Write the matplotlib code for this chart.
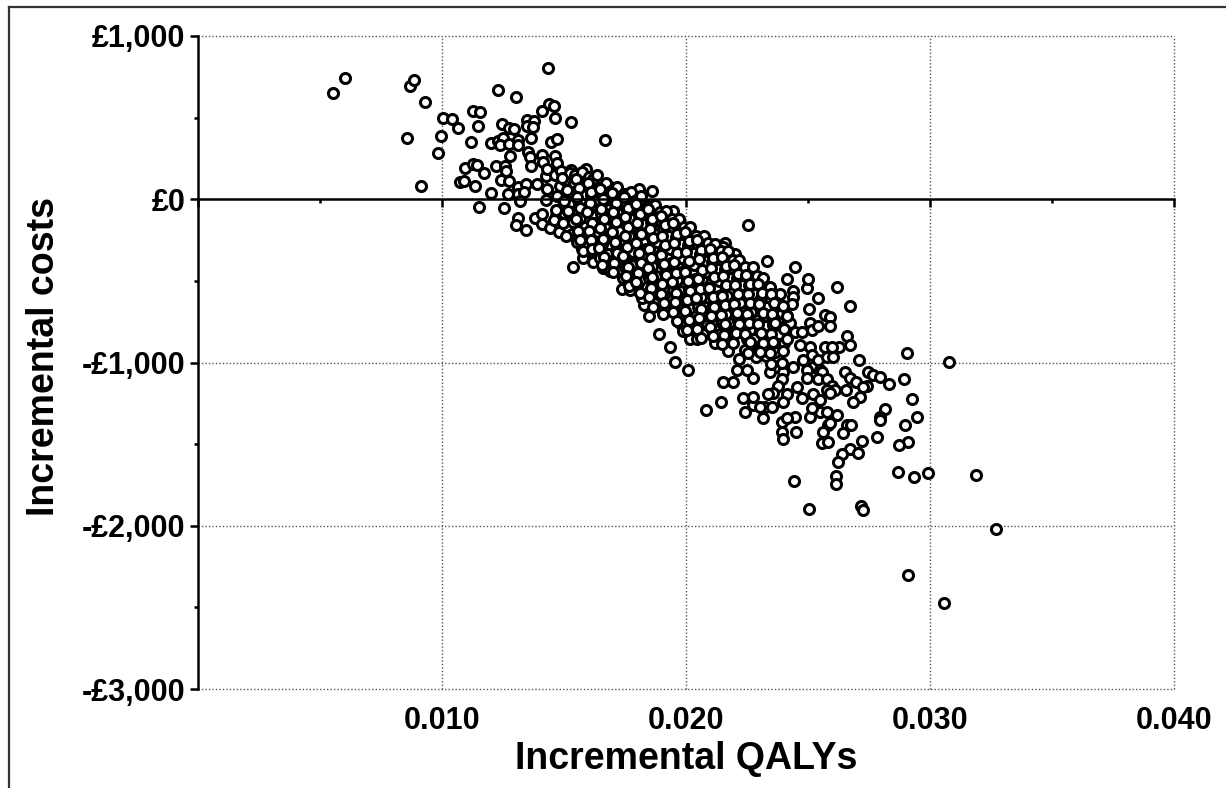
import matplotlib
matplotlib.use("Agg")
import matplotlib.pyplot as plt
from matplotlib.ticker import MultipleLocator, FixedLocator, FuncFormatter
from matplotlib.lines import Line2D
import numpy as np

plt.rcParams['font.family'] = ['Liberation Sans', 'DejaVu Sans']
plt.rcParams['font.weight'] = 'bold'

# Incremental QALYs in thousandths (mQALY), incremental costs in GBP
# sparse upper-left cloud
upper_q = [5.53, 6.02, 8.69, 8.85, 9.30, 8.57, 9.96, 9.84, 9.14, 10.04, 10.41, 10.66, 11.27, 11.56,
           11.48, 11.19, 12.30, 13.03, 14.34, 14.39, 14.59, 14.10, 14.63, 15.29, 13.48, 13.77, 13.48,
           13.73, 12.46, 12.75, 12.95, 13.65, 14.47, 14.71, 12.01, 12.30, 12.50, 12.38, 12.75, 13.11,
           13.11, 12.79, 13.52, 13.61, 14.10, 14.63, 13.65, 14.14, 14.71, 10.94, 11.27, 11.43, 11.72,
           12.21, 12.58, 12.62, 10.74, 10.90, 11.35, 12.42, 12.75, 12.01, 12.70, 13.11, 13.44, 13.89,
           14.26, 14.30, 13.11, 13.36, 13.20, 14.30, 14.26, 11.52, 12.54, 13.11, 13.03, 13.44, 13.81,
           14.10, 14.10, 14.43, 14.67, 16.68]
upper_c = [650, 742, 693, 730, 595, 374, 387, 282, 80, 497, 491, 436, 540, 534,
           448, 350, 669, 626, 804, 583, 571, 540, 497, 472, 485, 479, 448,
           442, 460, 436, 429, 374, 350, 368, 344, 356, 374, 331, 337, 362,
           331, 264, 288, 258, 270, 264, 202, 227, 221, 190, 215, 209, 160,
           202, 202, 172, 104, 110, 80, 117, 110, 37, 31, 74, 92, 92,
           141, 184, 31, 43, -12, 61, -6, -49, -55, -117, -160, -190, -117,
           -92, -153, -178, -104, 362]

# edges of the main band
edge_q = [15.37, 15.74, 15.78, 16.19, 16.60, 16.15, 17.38, 18.28, 18.48, 18.89, 19.34, 19.75, 19.88,
          20.16, 20.45, 19.55, 20.08, 20.82, 21.43, 22.42, 23.16, 23.93, 23.93, 24.51, 23.98,
          18.61, 18.07, 18.65, 19.47, 19.06, 19.67, 22.54, 21.60, 21.52, 22.01, 22.05, 23.32, 24.47,
          24.14, 24.96, 25.00, 16.90, 17.50, 15.90, 15.30]
edge_c = [-417, -307, -362, -387, -423, -325, -552, -650, -718, -828, -902, -755, -810,
          -853, -859, -994, -1049, -1288, -1245, -1301, -1337, -1362, -1423, -1423, -1466,
          49, 61, -55, -74, -123, -129, -160, -270, -294, -337, -472, -380, -417,
          -491, -546, -491, 74, 31, 185, 178]

# sparse lower-right cloud
lower_q = [26.19, 26.72, 25.41, 25.04, 25.70, 25.90, 26.60, 26.72, 26.27, 29.06, 30.78, 27.09, 26.52,
           26.72, 26.97, 27.46, 27.66, 27.95, 28.32, 28.93, 29.26, 29.47, 28.98, 29.10, 28.73, 28.16,
           27.95, 27.95, 27.42, 27.25, 27.13, 26.84, 26.56, 26.19, 25.82, 25.90, 26.60, 26.75, 26.43,
           25.61, 25.57, 25.82, 27.21, 27.83, 26.72, 27.05, 26.39, 26.23, 24.47, 24.14, 23.24, 23.52,
           22.75, 22.34, 25.08, 25.49, 25.78, 25.16, 28.69, 29.34, 29.92, 31.89, 24.43, 25.04, 26.15,
           26.15, 27.17, 27.25, 32.70, 29.10, 30.57, 21.52, 21.93, 22.75, 22.09, 22.50, 24.39, 24.80,
           25.20, 23.57, 23.85, 24.39, 24.39, 24.34, 23.65, 23.98, 23.77, 24.14, 24.26, 24.47, 24.75,
           25.08, 25.16, 25.41, 25.90, 24.67, 25.08, 25.70, 25.98, 25.16, 25.41, 25.78, 26.02, 24.96,
           25.49, 25.57, 24.96, 25.41, 25.78, 25.98, 26.11, 23.44, 23.98, 23.93, 23.77, 23.57, 23.36,
           24.14, 24.55, 24.75, 25.20, 25.49, 25.78, 25.90, 22.75, 23.03, 23.98]
lower_c = [-540, -656, -607, -675, -706, -724, -840, -890, -902, -939, -994, -982, -1061,
           -1092, -1117, -1061, -1074, -1086, -1129, -1104, -1221, -1331, -1380, -1485, -1503, -1282,
           -1331, -1350, -1147, -1153, -1209, -1245, -1166, -1319, -1380, -1368, -1380, -1385, -1429,
           -1423, -1491, -1485, -1478, -1454, -1528, -1552, -1558, -1607, -1331, -1337, -1270, -1270,
           -1258, -1215, -1331, -1301, -1301, -1276, -1669, -1699, -1675, -1687, -1724, -1896, -1693,
           -1742, -1877, -1902, -2018, -2300, -2472, -1117, -1117, -1092, -1043, -1043, -1025, -982,
           -1025, -583, -583, -564, -601, -644, -632, -675, -736, -718, -755, -816, -816,
           -755, -798, -779, -779, -890, -902, -902, -908, -951, -982, -969, -969, -1043,
           -1043, -1061, -1092, -1104, -1104, -1147, -1166, -1061, -1061, -1104, -1147, -1184, -1196,
           -1196, -1153, -1215, -1196, -1227, -1166, -1184, -1209, -1270, -1245]

# dense core of the band
core_q = [14.62, 14.83, 14.71, 14.94, 14.57, 14.78, 15.03, 14.88, 14.99, 14.66,
          15.23, 15.41, 15.28, 15.47, 15.16, 15.37, 15.31, 15.52, 15.44, 15.19,
          15.72, 15.93, 15.61, 15.84, 16.02, 15.67, 15.88, 15.58, 15.97, 15.79, 16.04, 15.86,
          16.18, 16.43, 16.09, 16.34, 16.51, 16.22, 16.38, 16.13, 16.27, 16.47, 16.36, 16.24,
          16.73, 16.91, 16.62, 16.84, 17.03, 16.68, 16.94, 16.57, 16.79, 16.98, 16.87, 17.04,
          17.17, 17.44, 17.08, 17.33, 17.52, 17.24, 17.37, 17.13, 17.28, 17.48, 17.41, 17.21, 17.54,
          17.73, 17.92, 17.58, 17.83, 18.03, 17.66, 17.94, 17.62, 17.77, 17.98, 17.87, 17.71, 18.04, 17.81,
          18.17, 18.43, 18.08, 18.32, 18.53, 18.24, 18.38, 18.12, 18.27, 18.49, 18.41, 18.19, 18.52, 18.34,
          18.72, 18.93, 18.58, 18.84, 19.03, 18.66, 18.92, 18.61, 18.78, 18.99, 18.87, 18.69, 19.04, 18.81,
          19.17, 19.43, 19.07, 19.32, 19.53, 19.23, 19.37, 19.12, 19.28, 19.48, 19.41, 19.19, 19.54, 19.34,
          19.73, 19.92, 19.58, 19.83, 20.03, 19.66, 19.94, 19.62, 19.77, 19.98, 19.87, 19.71, 20.04, 19.81,
          20.17, 20.43, 20.07, 20.32, 20.53, 20.23, 20.37, 20.12, 20.28, 20.48, 20.41, 20.19, 20.54, 20.34,
          20.73, 20.92, 20.58, 20.83, 21.03, 20.66, 20.94, 20.62, 20.77, 20.98, 20.87, 20.71, 21.04, 20.81,
          21.17, 21.43, 21.07, 21.32, 21.53, 21.23, 21.37, 21.12, 21.28, 21.48, 21.41, 21.19, 21.54, 21.34,
          21.73, 21.92, 21.58, 21.83, 22.03, 21.66, 21.94, 21.62, 21.77, 21.98, 21.87, 21.71, 22.04,
          22.17, 22.43, 22.07, 22.32, 22.53, 22.23, 22.37, 22.12, 22.28, 22.48, 22.41, 22.19,
          22.73, 22.92, 22.58, 22.83, 23.03, 22.66, 22.94, 22.62, 22.77, 22.98, 22.87,
          23.17, 23.43, 23.07, 23.32, 23.53, 23.23, 23.37, 23.12, 23.28, 23.48,
          23.73, 23.92, 23.58, 23.83, 24.03, 23.66, 23.94]
core_c = [148, 83, 17, -42, -128, -203, 118, 176, -87, -63,
          162, 97, 44, -12, -73, -138, -214, -262, 151, -28,
          168, 113, 57, 4, -58, -112, -173, -228, -284, -318, 137, 33,
          122, 68, 23, -43, -92, -147, -203, -257, -312, -358, 147, -8,
          98, 52, -13, -58, -113, -168, -223, -277, -333, -381, -437, 18,
          77, 33, -32, -88, -143, -197, -252, -308, -372, -418, -483, -127, -27,
          42, -13, -68, -122, -172, -228, -283, -337, -402, -447, -512, -558, -58, -322,
          18, -43, -98, -152, -197, -263, -307, -372, -428, -483, -537, -603, -102, -347,
          -33, -78, -142, -187, -243, -298, -353, -407, -472, -518, -583, -637, -398, -262,
          -72, -118, -183, -228, -282, -342, -388, -452, -507, -563, -618, -683, -447, -302,
          -122, -168, -233, -277, -332, -388, -443, -497, -562, -607, -672, -728, -478, -358,
          -168, -223, -278, -332, -378, -442, -487, -553, -608, -663, -717, -782, -527, -403,
          -223, -268, -333, -377, -432, -487, -543, -598, -662, -707, -773, -827, -577, -448,
          -272, -318, -383, -428, -483, -537, -592, -648, -713, -757, -823, -878, -628, -503,
          -317, -372, -428, -483, -527, -593, -637, -703, -758, -813, -867, -932, -683,
          -372, -417, -483, -528, -582, -637, -693, -748, -812, -857, -923, -977,
          -418, -472, -528, -583, -627, -692, -738, -803, -857, -912, -968,
          -483, -537, -602, -657, -722, -778, -843, -897, -963, -1008,
          -642, -697, -773, -828, -883, -938, -1003]

# second pass over the dense core (points between the first pass)
core2_q = [14.93, 15.11, 15.02, 15.17, 14.97, 15.09,
           15.48, 15.63, 15.55, 15.66, 15.51, 15.59, 15.64,
           15.98, 16.12, 16.06, 15.95, 16.14, 16.01, 16.09, 16.16,
           16.46, 16.61, 16.53, 16.64, 16.49, 16.58, 16.44, 16.62, 16.55,
           16.97, 17.12, 17.01, 17.14, 16.96, 17.09, 17.16, 17.03, 16.99,
           17.47, 17.62, 17.51, 17.64, 17.49, 17.58, 17.43, 17.61, 17.55, 17.66,
           17.96, 18.12, 18.01, 18.14, 17.97, 18.09, 18.16, 18.03, 17.94, 18.11,
           18.46, 18.61, 18.53, 18.64, 18.49, 18.58, 18.43, 18.62, 18.55, 18.47, 18.63,
           18.97, 19.12, 19.01, 19.14, 18.96, 19.09, 19.16, 19.03, 18.99, 19.11, 19.06,
           19.47, 19.62, 19.51, 19.64, 19.49, 19.58, 19.43, 19.61, 19.55, 19.46, 19.63,
           19.96, 20.12, 20.01, 20.14, 19.97, 20.09, 20.16, 20.03, 19.94, 20.11, 20.06,
           20.46, 20.61, 20.53, 20.64, 20.49, 20.58, 20.43, 20.62, 20.55, 20.47, 20.63,
           20.97, 21.12, 21.01, 21.14, 20.96, 21.09, 21.16, 21.03, 20.99, 21.11,
           21.47, 21.62, 21.51, 21.64, 21.49, 21.58, 21.43, 21.61, 21.55, 21.46,
           21.96, 22.12, 22.01, 22.14, 21.97, 22.09, 22.16, 22.03, 21.94,
           22.46, 22.61, 22.53, 22.64, 22.49, 22.58, 22.43, 22.62, 22.55,
           22.97, 23.12, 23.01, 23.14, 22.96, 23.09, 23.16, 23.03,
           23.47, 23.62, 23.51, 23.64, 23.49, 23.58, 23.43,
           23.97, 24.12, 24.01, 24.14, 23.96]
core2_c = [131, 58, -11, -72, -148, -223,
           122, 68, 12, -53, -118, -192, -247,
           98, 43, -22, -78, -143, -197, -252, -302,
           63, 2, -58, -123, -177, -243, -298, -352, -403,
           38, -23, -77, -142, -198, -262, -328, -392, -447,
           12, -52, -108, -173, -227, -292, -348, -413, -468, -532,
           -28, -92, -148, -213, -267, -332, -388, -453, -507, -572,
           -62, -118, -183, -237, -302, -357, -423, -478, -543, -597, -662,
           -102, -157, -223, -278, -343, -397, -462, -517, -583, -637, -702,
           -148, -213, -267, -332, -387, -453, -508, -572, -627, -693, -748,
           -203, -257, -322, -377, -443, -498, -562, -617, -683, -738, -803,
           -248, -313, -367, -433, -488, -552, -607, -673, -728, -793, -848,
           -302, -357, -423, -477, -543, -598, -662, -717, -783, -837,
           -352, -407, -473, -527, -593, -648, -712, -767, -833, -887,
           -403, -457, -523, -578, -642, -697, -763, -818, -882,
           -462, -517, -583, -637, -702, -757, -823, -877, -943,
           -522, -577, -643, -698, -762, -817, -883, -937,
           -582, -637, -703, -758, -823, -877, -942,
           -652, -718, -792, -857, -932]

q_all = np.array(upper_q + edge_q + lower_q + core_q + core2_q) / 1000.0
c_all = np.array(upper_c + edge_c + lower_c + core_c + core2_c, dtype=float)

fig = plt.figure(figsize=(12.26, 7.88), dpi=100)
ax = fig.add_axes([198/1226, 1-689/788, (1174-198)/1226, (689-36)/788])

ax.set_xlim(0, 0.040)
ax.set_ylim(-3000, 1000)

# grid
for xv in [0.010, 0.020, 0.030, 0.040]:
    ax.axvline(xv, color='#555555', lw=1.0, ls=(0, (1, 1.5)), zorder=1, clip_on=False)
for yv in [1000, -1000, -2000, -3000]:
    ax.axhline(yv, color='#555555', lw=1.0, ls=(0, (1, 1.5)), zorder=1, clip_on=False)

ax.scatter(q_all, c_all, s=52, facecolors='white', edgecolors='black', linewidths=2.2, zorder=3)

# spines
ax.spines['top'].set_visible(False)
ax.spines['right'].set_visible(False)
ax.spines['left'].set_linewidth(1.8)
ax.spines['bottom'].set_position(('data', 0))
ax.spines['bottom'].set_linewidth(1.8)
ax.spines['bottom'].set_zorder(4)

ax.xaxis.set_major_locator(MultipleLocator(0.010))
ax.xaxis.set_minor_locator(MultipleLocator(0.005))
ax.tick_params(axis='x', which='major', direction='out', length=6, width=1.8, labelbottom=False)
ax.tick_params(axis='x', which='minor', direction='out', length=3, width=1.8)

ax.yaxis.set_major_locator(MultipleLocator(1000))
ax.yaxis.set_minor_locator(MultipleLocator(500))
ax.tick_params(axis='y', which='major', direction='out', length=6, width=1.8, labelsize=22, pad=3)
ax.tick_params(axis='y', which='minor', direction='out', length=3, width=1.8)

def gbp(v, pos):
    v = int(round(v))
    if v < 0:
        return "-£{:,}".format(-v)
    return "£{:,}".format(v)
ax.yaxis.set_major_formatter(FuncFormatter(gbp))
for t in ax.get_yticklabels():
    t.set_fontweight('bold')

# x tick labels at the bottom
sec = ax.secondary_xaxis('bottom')
sec.xaxis.set_major_locator(FixedLocator([0.010, 0.020, 0.030, 0.040]))
sec.xaxis.set_major_formatter(FuncFormatter(lambda v, p: "{:.3f}".format(v)))
sec.tick_params(axis='x', length=0, labelsize=22, pad=12)
sec.spines['bottom'].set_visible(False)
for t in sec.get_xticklabels():
    t.set_fontweight('bold')

fig.text(686/1226, 1-759/788, "Incremental QALYs", ha='center', va='center',
         fontsize=27, fontweight='bold')
fig.text(44/1226, 1-357/788, "Incremental costs", ha='center', va='center',
         fontsize=27, fontweight='bold', rotation=90)

# outer frame
fig.add_artist(Line2D([8.5/1226, 8.5/1226], [0, 1-6.5/788], transform=fig.transFigure,
                      color='#333333', lw=1.6))
fig.add_artist(Line2D([8.5/1226, 1], [1-6.5/788, 1-6.5/788], transform=fig.transFigure,
                      color='#333333', lw=1.6))

fig.savefig("out.png", dpi=100)
